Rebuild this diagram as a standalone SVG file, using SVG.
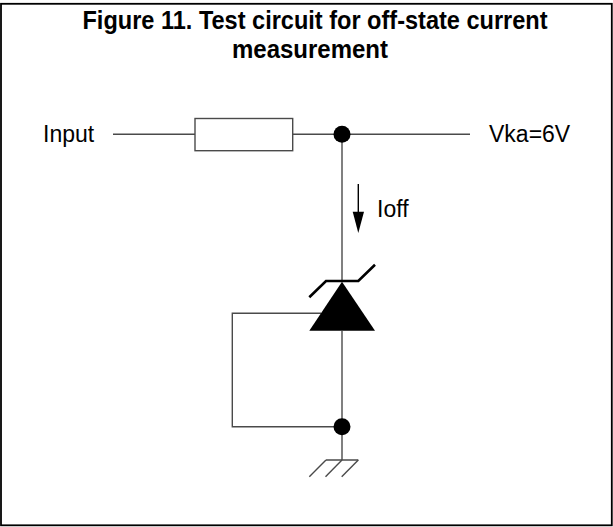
<svg xmlns="http://www.w3.org/2000/svg" width="613" height="527" viewBox="0 0 613 527">
  <style>
    .wire { stroke: #4a4a4a; stroke-width: 1.4; fill: none; }
    .lbl { font-family: "Liberation Sans", Arial, sans-serif; font-size: 23px; fill: #000; }
    .title { font-family: "Liberation Sans", Arial, sans-serif; font-size: 25px; font-weight: bold; fill: #000; text-anchor: middle; }
    .dot { fill: #000; }
    .zbar { stroke: #000; stroke-width: 2.6; fill: none; stroke-linejoin: miter; }
  </style>
  <rect x="1" y="3.8" width="610.8" height="521.5" fill="#fff" stroke="#000" stroke-width="1.8"/>
  <g id="title">
    <text class="title" x="315" y="29" textLength="465" lengthAdjust="spacingAndGlyphs">Figure 11. Test circuit for off-state current</text>
    <text class="title" x="310" y="58" textLength="156" lengthAdjust="spacingAndGlyphs">measurement</text>
  </g>
  <g id="connectors">
    <line class="wire" x1="113" y1="134.3" x2="195" y2="134.3"/>
    <line class="wire" x1="292.7" y1="134.3" x2="470" y2="134.3"/>
    <line class="wire" x1="342" y1="134.3" x2="342" y2="282"/>
    <line class="wire" x1="342" y1="331" x2="342" y2="460"/>
    <polyline class="wire" points="321,313.3 232.3,313.3 232.3,426.7 342,426.7"/>
  </g>
  <g id="input">
    <text class="lbl" x="43" y="142">Input</text>
  </g>
  <g id="output">
    <text class="lbl" x="489" y="142">Vka=6V</text>
  </g>
  <g id="resistor">
    <rect class="wire" x="195" y="118.5" width="97.7" height="32.2" fill="#fff"/>
  </g>
  <g id="junction-top">
    <circle class="dot" cx="342" cy="134.3" r="8.5"/>
  </g>
  <g id="current-arrow">
    <line x1="358.3" y1="184" x2="358.3" y2="213" stroke="#000" stroke-width="1.4"/>
    <polygon points="352.7,211.7 364,211.7 358.3,233" fill="#000"/>
    <text class="lbl" x="377" y="217">Ioff</text>
  </g>
  <g id="zener">
    <polygon points="342,281.7 309.3,330.7 375,330.7" fill="#000"/>
    <polyline class="zbar" points="309.3,297.3 326,281 358.3,281 375,264.7"/>
  </g>
  <g id="junction-bottom">
    <circle class="dot" cx="342" cy="426.7" r="8.5"/>
  </g>
  <g id="ground">
    <line class="wire" x1="326" y1="460" x2="358.3" y2="460"/>
    <line class="wire" x1="326" y1="460" x2="309.3" y2="476.7"/>
    <line class="wire" x1="342" y1="460" x2="325.5" y2="476.7"/>
    <line class="wire" x1="358.3" y1="460" x2="341.7" y2="476.7"/>
  </g>
</svg>
